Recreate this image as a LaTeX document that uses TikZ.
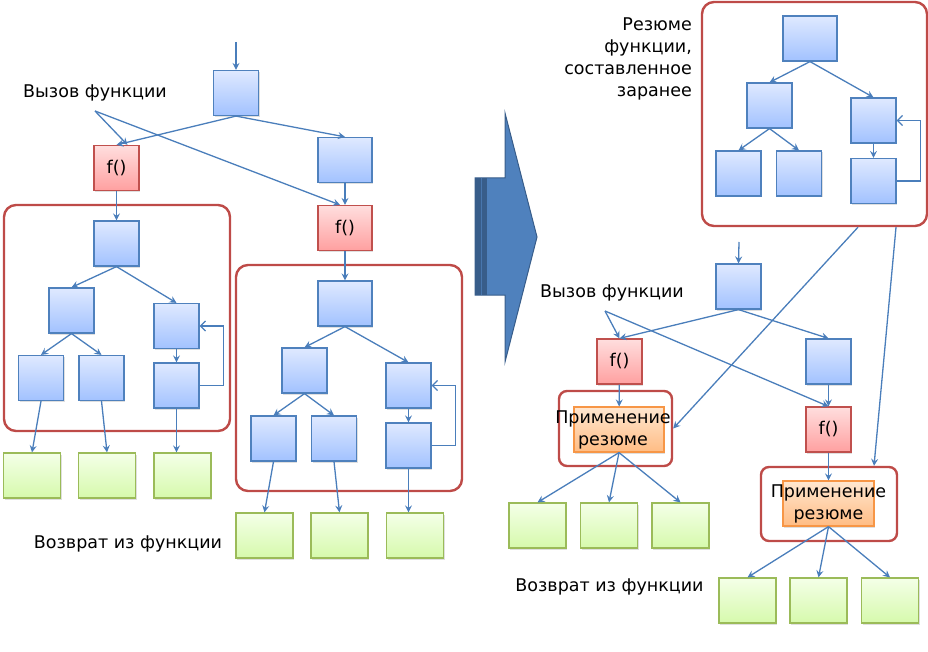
\documentclass[tikz,border=0pt]{standalone}
\usepackage{fontspec}
\setmainfont{DejaVu Sans}
\usetikzlibrary{positioning, arrows.meta, shadows, calc}
\definecolor{BoxBlue}{RGB}{79,129,189}
\definecolor{BlueTop}{RGB}{223,233,255}
\definecolor{BlueBottom}{RGB}{162,194,255}
\definecolor{CallRed}{RGB}{192,80,77}
\definecolor{RedTop}{RGB}{255,222,222}
\definecolor{RedBottom}{RGB}{255,160,160}
\definecolor{RetGreen}{RGB}{155,187,89}
\definecolor{GreenTop}{RGB}{244,255,232}
\definecolor{GreenBottom}{RGB}{214,250,172}
\definecolor{ApplyOrange}{RGB}{247,150,70}
\definecolor{OrangeTop}{RGB}{255,231,208}
\definecolor{OrangeBottom}{RGB}{255,188,132}
\definecolor{FrameRed}{RGB}{190,75,72}
\definecolor{LinkBlue}{RGB}{74,126,187}
\definecolor{ArrowDark}{RGB}{56,93,138}

\begin{document}
\begin{tikzpicture}[x=1pt, y=-1pt, every node/.style={font=\fontsize{17.5}{22}\selectfont}]
  \tikzstyle{blk} = [rectangle, draw=BoxBlue, line width=1.2pt, top color=BlueTop, bottom color=BlueBottom,
    minimum width=45pt, minimum height=45pt, drop shadow={shadow xshift=1pt, shadow yshift=-1.5pt, opacity=0.25}]
  \tikzstyle{callbox} = [blk, draw=CallRed, top color=RedTop, bottom color=RedBottom]
  \tikzstyle{retbox} = [blk, draw=RetGreen, top color=GreenTop, bottom color=GreenBottom, minimum width=57pt]
  \tikzstyle{applybox} = [blk, draw=ApplyOrange, top color=OrangeTop, bottom color=OrangeBottom, minimum width=90pt]
  \tikzstyle{frame} = [rectangle, draw=FrameRed, line width=2.4pt, rounded corners=12pt]
  \tikzstyle{txt} = [inner sep=0pt]
  \tikzstyle{link} = [draw=LinkBlue, line width=1.3pt, -{Stealth[length=7pt, width=7pt, inset=2.5pt]}]
  \tikzstyle{loopback} = [draw=LinkBlue, line width=1.3pt, -{Straight Barb[length=5pt, width=10pt]}]

  \useasboundingbox (0,0) rectangle (928,652);

  % Рамки тел функций
  \node[frame, minimum width=226pt, minimum height=226pt] (bodyA) at (117,318) {};
  \node[frame, minimum width=226pt, minimum height=226pt] (bodyB) at (349,378) {};
  \node[frame, minimum width=225pt, minimum height=224pt] (sum) at (814.5,114) {};
  \node[frame, rounded corners=8pt, minimum width=113pt, minimum height=75pt] (useC) at (615.5,428.5) {};
  \node[frame, rounded corners=8pt, minimum width=136pt, minimum height=74pt] (useD) at (829,504) {};

  % Исходная программа
  \coordinate (entryA) at (236,42);
  \node[blk] (topA) at (236,93) {};
  \node[txt] (callA) at (95,93) {Вызов функции};
  \coordinate (callAtip) at (95,111);
  \node[callbox] (fA) at (116.5,168) {f()};
  \node[blk, minimum width=54pt] (midA) at (345,160) {};
  \node[callbox, minimum width=54pt] (fB) at (345,228) {f()};

  % Деревья: тело f() дважды и резюме
  \node[blk] (t1) at (116.5,243.5) {};
  \node[blk] (t1-l) at (71.5,310.5) {};
  \node[blk] (t1-r) at (176.5,326) {};
  \node[blk] (t1-ll) at (41,378) {};
  \node[blk] (t1-lr) at (101.5,378) {};
  \node[blk] (t1-rb) at (176.5,385.5) {};

  \node[blk, minimum width=54pt] (t2) at (345,303.5) {};
  \node[blk] (t2-l) at (304.5,370.5) {};
  \node[blk] (t2-r) at (408.5,385.5) {};
  \node[blk] (t2-ll) at (273.5,438.5) {};
  \node[blk] (t2-lr) at (334,438.5) {};
  \node[blk] (t2-rb) at (408.5,445.5) {};

  \node[blk, minimum width=54pt] (t3) at (810,38.5) {};
  \node[blk] (t3-l) at (769.5,105.5) {};
  \node[blk] (t3-r) at (873.5,120.5) {};
  \node[blk] (t3-ll) at (738.5,173.5) {};
  \node[blk] (t3-lr) at (799,173.5) {};
  \node[blk] (t3-rb) at (873.5,181) {};

  \foreach \t in {t1,t2,t3} {
    \draw[link] (\t.south) -- (\t-l.north);
    \draw[link] (\t.south) -- (\t-r.north);
    \draw[link] (\t-l.south) -- (\t-ll.north);
    \draw[link] (\t-l.south) -- (\t-lr.north);
    \draw[link] (\t-r.south) -- (\t-rb.north);
    \draw[loopback] (\t-rb.east) -- ++(24,0) |- (\t-r.east);
  }

  % Возвраты
  \foreach \x [count=\i] in {32,107,182.5}
    \node[retbox] (g1-\i) at (\x,475.5) {};
  \foreach \x [count=\i] in {264.5,339.5,415}
    \node[retbox] (g2-\i) at (\x,535.5) {};
  \node[txt] (retA) at (128,544) {Возврат из функции};

  \draw[link] (entryA) -- (topA.north);
  \draw[link] (topA.south) -- (fA.north);
  \draw[link] (topA.south) -- (midA.north);
  \draw[link] (callAtip) -- ($(fA.north)+(11,0)$);
  \draw[link] (callAtip) -- ($(fB.north)+(-5,0)$);
  \draw[link] (midA) -- (fB);
  \draw[link] (fA) -- (t1);
  \draw[link] (fB) -- (t2);
  \draw[link] (t1-ll.south) -- (g1-1.north);
  \draw[link] (t1-lr.south) -- (g1-2.north);
  \draw[link] (t1-rb.south) -- (t1-rb.south |- g1-3.north);
  \draw[link] (t2-ll.south) -- (g2-1.north);
  \draw[link] (t2-lr.south) -- (g2-2.north);
  \draw[link] (t2-rb.south) -- (t2-rb.south |- g2-3.north);

  % Большая стрелка
  \fill[BoxBlue, draw=ArrowDark, line width=1pt] (475,178) -- (505,178) -- (505,113) -- (537,237)
    -- (505,362) -- (505,295) -- (475,295) -- cycle;
  \fill[ArrowDark] (475,178) rectangle (487,295);
  \draw[BoxBlue!70!ArrowDark, line width=1pt] (481.5,178) -- (481.5,295);

  % Программа с резюме
  \node[txt, align=right, anchor=east] (sumtext) at (692,59) {Резюме\\функции,\\составленное\\заранее};
  \coordinate (entryC) at (739,242);
  \node[blk] (c0) at (738.5,286.5) {};
  \node[txt] (callC) at (612,293) {Вызов функции};
  \coordinate (callCtip) at (605,311);
  \node[callbox] (fC) at (619.5,361.5) {f()};
  \node[blk] (c1) at (828.5,361.5) {};
  \node[callbox] (fD) at (828.5,429.5) {f()};
  \node[applybox, label={[align=center, xshift=-6pt]center:{Применение\\резюме}}] (applyC) at (619,429.5) {};
  \node[applybox, minimum width=91pt, label={[align=center]center:{Применение\\резюме}}] (applyD) at (828.5,503.5) {};

  \foreach \x [count=\i] in {537.5,609,680.5}
    \node[retbox] (g3-\i) at (\x,525.5) {};
  \foreach \x [count=\i] in {747.5,818.5,890}
    \node[retbox] (g4-\i) at (\x,600.5) {};
  \node[txt] (retC) at (609.5,587) {Возврат из функции};

  \draw[link] (entryC) -- (c0.north);
  \draw[link] (c0.south) -- (fC.north);
  \draw[link] (c0.south) -- (c1.north);
  \draw[link] (callCtip) -- (fC.north);
  \draw[link] (callCtip) -- (fD.north);
  \draw[link] (c1) -- (fD);
  \draw[link] (fC) -- (applyC);
  \draw[link] (fD) -- (applyD);
  \draw[link] ($(sum.south)+(43.5,0)$) -- (useC.east);
  \draw[link] ($(sum.south)+(81.5,0)$) -- ($(useD.north)+(45,0)$);
  \foreach \i in {1,2,3} {
    \draw[link] (applyC.south) -- (g3-\i.north);
    \draw[link] (applyD.south) -- (g4-\i.north);
  }
\end{tikzpicture}
\end{document}
